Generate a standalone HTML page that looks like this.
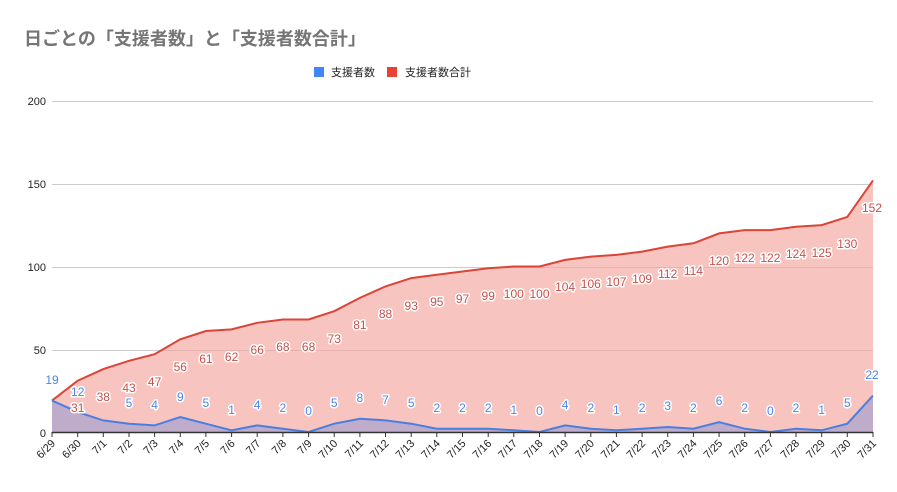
<!DOCTYPE html>
<html><head><meta charset="utf-8"><style>
body{margin:0;background:#fff;width:897px;height:492px;overflow:hidden}
svg{display:block;font-family:"Liberation Sans","Noto Sans CJK JP",sans-serif}
.r{fill:#c5504b}.b{fill:#4a86e8}
.d{font-size:12px;text-anchor:middle;stroke:#fff;stroke-width:3px;paint-order:stroke;stroke-linejoin:round}
.x{font-size:11px;fill:#222;text-anchor:end}
</style></head><body>
<svg width="897" height="492" viewBox="0 0 897 492">
<text x="24" y="45" font-size="18" font-weight="bold" fill="#757575">日ごとの「支援者数」と「支援者数合計」</text>
<rect x="314" y="67" width="10" height="10" fill="#4285f4"/>
<text x="331" y="76" font-size="11" fill="#222">支援者数</text>
<rect x="387" y="67" width="10" height="10" fill="#ea4335"/>
<text x="405" y="76" font-size="11" fill="#222">支援者数合計</text>
<g stroke="#ccc" stroke-width="1">
<line x1="52" y1="101.5" x2="873" y2="101.5"/><line x1="52" y1="184.5" x2="873" y2="184.5"/><line x1="52" y1="267.5" x2="873" y2="267.5"/><line x1="52" y1="350.5" x2="873" y2="350.5"/>
</g>
<g font-size="11" fill="#222" text-anchor="end">
<text x="46" y="105">200</text><text x="46" y="188">150</text><text x="46" y="271">100</text><text x="46" y="354">50</text><text x="46" y="437">0</text>
</g>
<polygon fill="#f4a49d" fill-opacity="0.65" points="52,432 52,400.6 77.7,380.7 103.3,369.1 129,360.8 154.6,354.2 180.3,339.3 205.9,331 231.6,329.4 257.2,322.8 282.9,319.5 308.6,319.5 334.2,311.2 359.9,297.9 385.5,286.4 411.2,278.1 436.8,274.8 462.5,271.5 488.2,268.2 513.8,266.5 539.5,266.5 565.1,259.9 590.8,256.6 616.4,254.9 642.1,251.6 667.7,246.6 693.4,243.3 719.1,233.4 744.7,230.1 770.4,230.1 796,226.8 821.7,225.1 847.3,216.9 873,180.4 873,432"/>
<polygon fill="#7a8fd6" fill-opacity="0.45" points="52,432 52,400.6 77.7,412.1 103.3,420.4 129,423.7 154.6,425.4 180.3,417.1 205.9,423.7 231.6,430.3 257.2,425.4 282.9,428.7 308.6,432 334.2,423.7 359.9,418.8 385.5,420.4 411.2,423.7 436.8,428.7 462.5,428.7 488.2,428.7 513.8,430.3 539.5,432 565.1,425.4 590.8,428.7 616.4,430.3 642.1,428.7 667.7,427 693.4,428.7 719.1,422.1 744.7,428.7 770.4,432 796,428.7 821.7,430.3 847.3,423.7 873,395.6 873,432"/>
<polyline fill="none" stroke="#db4437" stroke-width="2" points="52,400.6 77.7,380.7 103.3,369.1 129,360.8 154.6,354.2 180.3,339.3 205.9,331 231.6,329.4 257.2,322.8 282.9,319.5 308.6,319.5 334.2,311.2 359.9,297.9 385.5,286.4 411.2,278.1 436.8,274.8 462.5,271.5 488.2,268.2 513.8,266.5 539.5,266.5 565.1,259.9 590.8,256.6 616.4,254.9 642.1,251.6 667.7,246.6 693.4,243.3 719.1,233.4 744.7,230.1 770.4,230.1 796,226.8 821.7,225.1 847.3,216.9 873,180.4"/>
<polyline fill="none" stroke="#4a7fe0" stroke-width="2" points="52,400.6 77.7,412.1 103.3,420.4 129,423.7 154.6,425.4 180.3,417.1 205.9,423.7 231.6,430.3 257.2,425.4 282.9,428.7 308.6,432 334.2,423.7 359.9,418.8 385.5,420.4 411.2,423.7 436.8,428.7 462.5,428.7 488.2,428.7 513.8,430.3 539.5,432 565.1,425.4 590.8,428.7 616.4,430.3 642.1,428.7 667.7,427 693.4,428.7 719.1,422.1 744.7,428.7 770.4,432 796,428.7 821.7,430.3 847.3,423.7 873,395.6"/>
<line x1="52" y1="432.5" x2="873" y2="432.5" stroke="#333" stroke-width="1.5"/>
<g stroke="#333" stroke-width="1">
<line x1="52" y1="432" x2="52" y2="437"/><line x1="77.7" y1="432" x2="77.7" y2="437"/><line x1="103.3" y1="432" x2="103.3" y2="437"/><line x1="129" y1="432" x2="129" y2="437"/><line x1="154.6" y1="432" x2="154.6" y2="437"/><line x1="180.3" y1="432" x2="180.3" y2="437"/><line x1="205.9" y1="432" x2="205.9" y2="437"/><line x1="231.6" y1="432" x2="231.6" y2="437"/><line x1="257.2" y1="432" x2="257.2" y2="437"/><line x1="282.9" y1="432" x2="282.9" y2="437"/><line x1="308.6" y1="432" x2="308.6" y2="437"/><line x1="334.2" y1="432" x2="334.2" y2="437"/><line x1="359.9" y1="432" x2="359.9" y2="437"/><line x1="385.5" y1="432" x2="385.5" y2="437"/><line x1="411.2" y1="432" x2="411.2" y2="437"/><line x1="436.8" y1="432" x2="436.8" y2="437"/><line x1="462.5" y1="432" x2="462.5" y2="437"/><line x1="488.2" y1="432" x2="488.2" y2="437"/><line x1="513.8" y1="432" x2="513.8" y2="437"/><line x1="539.5" y1="432" x2="539.5" y2="437"/><line x1="565.1" y1="432" x2="565.1" y2="437"/><line x1="590.8" y1="432" x2="590.8" y2="437"/><line x1="616.4" y1="432" x2="616.4" y2="437"/><line x1="642.1" y1="432" x2="642.1" y2="437"/><line x1="667.7" y1="432" x2="667.7" y2="437"/><line x1="693.4" y1="432" x2="693.4" y2="437"/><line x1="719.1" y1="432" x2="719.1" y2="437"/><line x1="744.7" y1="432" x2="744.7" y2="437"/><line x1="770.4" y1="432" x2="770.4" y2="437"/><line x1="796" y1="432" x2="796" y2="437"/><line x1="821.7" y1="432" x2="821.7" y2="437"/><line x1="847.3" y1="432" x2="847.3" y2="437"/><line x1="873" y1="432" x2="873" y2="437"/>
</g>
<g class="d r">
<text x="77.7" y="412">31</text><text x="103.3" y="401">38</text><text x="129" y="392">43</text><text x="154.6" y="386">47</text><text x="180.3" y="371">56</text><text x="205.9" y="363">61</text><text x="231.6" y="361">62</text><text x="257.2" y="354">66</text><text x="282.9" y="351">68</text><text x="308.6" y="351">68</text><text x="334.2" y="343">73</text><text x="359.9" y="329">81</text><text x="385.5" y="318">88</text><text x="411.2" y="310">93</text><text x="436.8" y="306">95</text><text x="462.5" y="303">97</text><text x="488.2" y="300">99</text><text x="513.8" y="298">100</text><text x="539.5" y="298">100</text><text x="565.1" y="291">104</text><text x="590.8" y="288">106</text><text x="616.4" y="286">107</text><text x="642.1" y="283">109</text><text x="667.7" y="278">112</text><text x="693.4" y="275">114</text><text x="719.1" y="265">120</text><text x="744.7" y="262">122</text><text x="770.4" y="262">122</text><text x="796" y="258">124</text><text x="821.7" y="257">125</text><text x="847.3" y="248">130</text><text x="872" y="212">152</text>
</g>
<g class="d b">
<text x="52" y="384">19</text><text x="77.7" y="396">12</text><text x="129" y="407">5</text><text x="154.6" y="409">4</text><text x="180.3" y="401">9</text><text x="205.9" y="407">5</text><text x="231.6" y="414">1</text><text x="257.2" y="409">4</text><text x="282.9" y="412">2</text><text x="308.6" y="415">0</text><text x="334.2" y="407">5</text><text x="359.9" y="402">8</text><text x="385.5" y="404">7</text><text x="411.2" y="407">5</text><text x="436.8" y="412">2</text><text x="462.5" y="412">2</text><text x="488.2" y="412">2</text><text x="513.8" y="414">1</text><text x="539.5" y="415">0</text><text x="565.1" y="409">4</text><text x="590.8" y="412">2</text><text x="616.4" y="414">1</text><text x="642.1" y="412">2</text><text x="667.7" y="410">3</text><text x="693.4" y="412">2</text><text x="719.1" y="405">6</text><text x="744.7" y="412">2</text><text x="770.4" y="415">0</text><text x="796" y="412">2</text><text x="821.7" y="414">1</text><text x="847.3" y="407">5</text><text x="872" y="379">22</text>
</g>
<g class="x">
<text transform="translate(56,444) rotate(-45)">6/29</text><text transform="translate(81.7,444) rotate(-45)">6/30</text><text transform="translate(107.3,444) rotate(-45)">7/1</text><text transform="translate(133,444) rotate(-45)">7/2</text><text transform="translate(158.6,444) rotate(-45)">7/3</text><text transform="translate(184.3,444) rotate(-45)">7/4</text><text transform="translate(209.9,444) rotate(-45)">7/5</text><text transform="translate(235.6,444) rotate(-45)">7/6</text><text transform="translate(261.2,444) rotate(-45)">7/7</text><text transform="translate(286.9,444) rotate(-45)">7/8</text><text transform="translate(312.6,444) rotate(-45)">7/9</text><text transform="translate(338.2,444) rotate(-45)">7/10</text><text transform="translate(363.9,444) rotate(-45)">7/11</text><text transform="translate(389.5,444) rotate(-45)">7/12</text><text transform="translate(415.2,444) rotate(-45)">7/13</text><text transform="translate(440.8,444) rotate(-45)">7/14</text><text transform="translate(466.5,444) rotate(-45)">7/15</text><text transform="translate(492.2,444) rotate(-45)">7/16</text><text transform="translate(517.8,444) rotate(-45)">7/17</text><text transform="translate(543.5,444) rotate(-45)">7/18</text><text transform="translate(569.1,444) rotate(-45)">7/19</text><text transform="translate(594.8,444) rotate(-45)">7/20</text><text transform="translate(620.4,444) rotate(-45)">7/21</text><text transform="translate(646.1,444) rotate(-45)">7/22</text><text transform="translate(671.7,444) rotate(-45)">7/23</text><text transform="translate(697.4,444) rotate(-45)">7/24</text><text transform="translate(723.1,444) rotate(-45)">7/25</text><text transform="translate(748.7,444) rotate(-45)">7/26</text><text transform="translate(774.4,444) rotate(-45)">7/27</text><text transform="translate(800,444) rotate(-45)">7/28</text><text transform="translate(825.7,444) rotate(-45)">7/29</text><text transform="translate(851.3,444) rotate(-45)">7/30</text><text transform="translate(877,444) rotate(-45)">7/31</text>
</g>
</svg>
</body></html>
